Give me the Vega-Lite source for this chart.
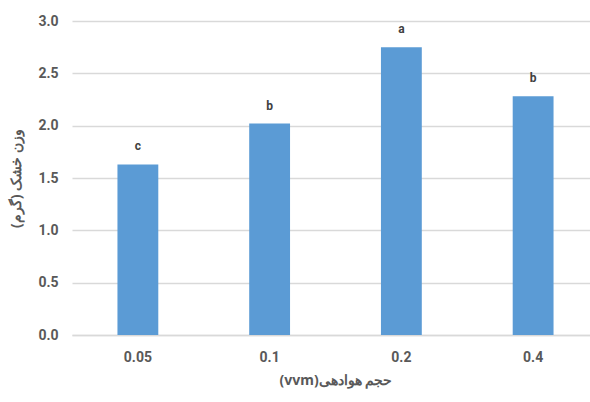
{
  "$schema": "https://vega.github.io/schema/vega-lite/v6.json",
  "autosize": {"type": "none"},
  "padding": {"left": 72, "top": 21, "right": 0, "bottom": 67},
  "width": 518,
  "height": 314,
  "background": "white",
  "data": {"values": [
    {"vvm": "0.05", "weight": 1.63, "group": "c"},
    {"vvm": "0.1", "weight": 2.02, "group": "b"},
    {"vvm": "0.2", "weight": 2.75, "group": "a"},
    {"vvm": "0.4", "weight": 2.28, "group": "b"}
  ]},
  "config": {
    "view": {"stroke": null},
    "font": "Roboto"
  },
  "encoding": {
    "x": {
      "field": "vvm", "type": "nominal", "sort": null,
      "scale": {"paddingInner": 0.69, "paddingOuter": 0.345, "range": [0, 527]},
      "axis": {
        "title": "(vvm)حجم هوادهی",
        "titleFont": "Noto Sans", "titleFontSize": 14, "titleFontWeight": "bold", "titleColor": "#595959",
        "titlePadding": 9,
        "labelAngle": 0, "labelFontSize": 14, "labelFontWeight": "bold", "labelColor": "#595959",
        "labelPadding": 15, "ticks": false,
        "domainColor": "#d9d9d9", "domainWidth": 1.5
      }
    },
    "y": {
      "field": "weight", "type": "quantitative",
      "scale": {"domain": [0, 3]},
      "axis": {
        "title": "وزن خشک (گرم)",
        "titleFont": "Noto Sans", "titleFontSize": 14, "titleFontWeight": "bold", "titleColor": "#595959",
        "titlePadding": 14,
        "values": [0, 0.5, 1, 1.5, 2, 2.5, 3], "format": ".1f",
        "labelFontSize": 14, "labelFontWeight": "bold", "labelColor": "#595959",
        "labelPadding": 14, "ticks": false, "domain": false,
        "gridColor": "#d9d9d9", "gridWidth": 1.5
      }
    }
  },
  "layer": [
    {"mark": {"type": "bar", "color": "#5B9BD5"}},
    {
      "mark": {"type": "text", "dy": -18, "baseline": "middle", "fontSize": 12, "fontWeight": "bold", "color": "#404040"},
      "encoding": {"text": {"field": "group"}}
    }
  ]
}
